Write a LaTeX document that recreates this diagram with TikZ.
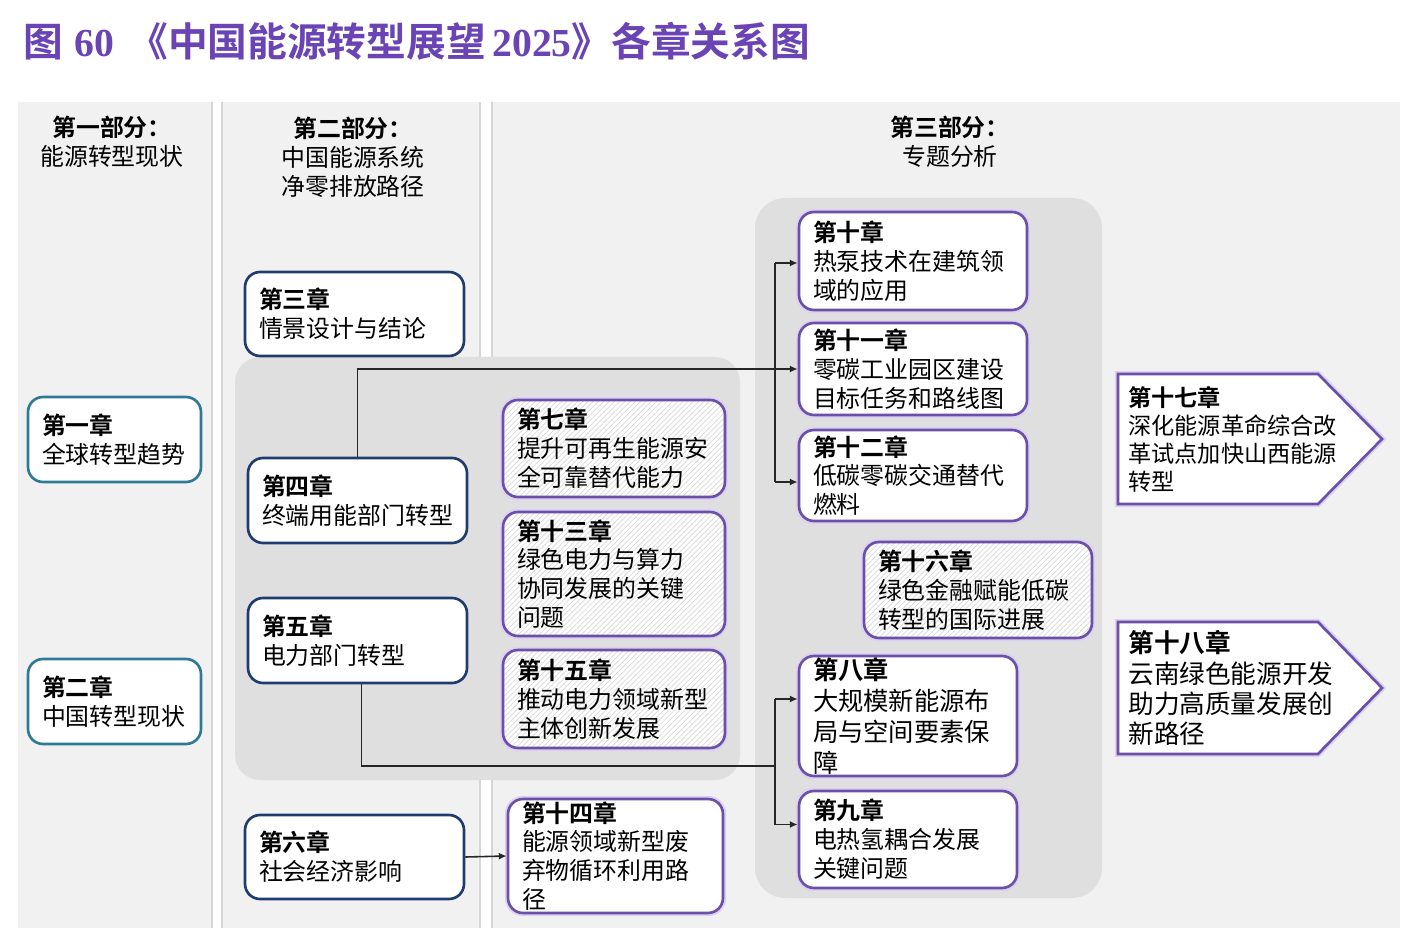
\documentclass[tikz,border=0pt]{standalone}
\usepackage{fontspec}
\setmainfont{Noto Sans CJK SC}[BoldFont={Noto Sans CJK SC Bold}]
\newfontfamily\latinfont{Liberation Serif}
\usetikzlibrary{patterns,arrows.meta,calc}

\definecolor{titlepurple}{HTML}{6A44B4}
\definecolor{panelgray}{HTML}{F1F1F1}
\definecolor{edgegray}{HTML}{D6D6D6}
\definecolor{zonegray}{HTML}{DFDFDF}
\definecolor{tealline}{HTML}{2E7A95}
\definecolor{navyline}{HTML}{1F3C6E}
\definecolor{purpleline}{HTML}{6A50A8}
\definecolor{purplehalo}{HTML}{DCD2F2}

\tikzset{
  chap/.style={draw, fill=white, rounded corners=0.3cm, line width=1.5pt,
    inner xsep=0.28cm, inner ysep=0pt, align=left,
    font=\fontsize{13.6}{16.4}\selectfont},
  tealbox/.style={draw=tealline},
  navybox/.style={draw=navyline},
  purplebox/.style={draw=purpleline, preaction={draw=purplehalo, line width=3.6pt}},
  hatched/.style={preaction={fill=white}, pattern=north east lines, pattern color=gray!30},
  header/.style={align=center, font=\fontsize{13.6}{16.4}\selectfont},
  link/.style={line width=0.9pt, black!85, -{Latex[length=4.5pt,width=4pt]}},
  bus/.style={line width=0.9pt, black!85},
  pentagon/.style={draw=purpleline, fill=white, line width=1.5pt,
    preaction={draw=purplehalo, line width=3.6pt}},
}

\begin{document}
\begin{tikzpicture}[x=0.02cm, y=-0.02cm]
  \useasboundingbox (0,0) rectangle (1406,942);
  \fill[white] (0,0) rectangle (1406,942);

  % Title
  \node[anchor=west, text=titlepurple, font=\fontsize{22.6}{26}\selectfont\bfseries]
    (title) at (17,41) {图\hspace{0.3em}{\latinfont 60}\hspace{0.35em}《中国能源转型展望\,{\latinfont 2025}》各章关系图};

  % Three parts
  \fill[panelgray] (18,102) rectangle (212,928);
  \fill[panelgray] (222,102) rectangle (480,928);
  \fill[panelgray] (492,102) rectangle (1400,928);
  \foreach \x in {212,222,480,492}
    \draw[edgegray, line width=0.6pt] (\x,102) -- (\x,928);

  \node[header] (part1) at (112,142) {\textbf{第一部分：}\\能源转型现状};
  \node[header] (part2) at (353,157) {\textbf{第二部分：}\\中国能源系统\\净零排放路径};
  \node[header] (part3) at (950,142) {\textbf{第三部分：}\\专题分析};

  % Grouping zones
  \fill[zonegray, rounded corners=0.5cm] (235,357) rectangle (740,780);
  \fill[zonegray, rounded corners=0.6cm] (755,198) rectangle (1102,898);

  % Part one
  \node[chap, tealbox, text width=2.90cm, minimum height=1.70cm] (c1) at (114.5,439.5)
    {\textbf{第一章}\\全球转型趋势};
  \node[chap, tealbox, text width=2.90cm, minimum height=1.70cm] (c2) at (114.5,701.5)
    {\textbf{第二章}\\中国转型现状};

  % Part two
  \node[chap, navybox, text width=3.82cm, minimum height=1.68cm] (c3) at (354.5,314)
    {\textbf{第三章}\\情景设计与结论};
  \node[chap, navybox, text width=3.82cm, minimum height=1.70cm] (c4) at (357.5,500.5)
    {\textbf{第四章}\\终端用能部门转型};
  \node[chap, navybox, text width=3.82cm, minimum height=1.70cm] (c5) at (357.5,640.5)
    {\textbf{第五章}\\电力部门转型};
  \node[chap, navybox, text width=3.82cm, minimum height=1.68cm] (c6) at (354.5,857)
    {\textbf{第六章}\\社会经济影响};

  % Part three, left column
  \node[chap, purplebox, hatched, text width=3.88cm, minimum height=1.94cm] (c7) at (614,448.5)
    {\textbf{第七章}\\提升可再生能源安\\全可靠替代能力};
  \node[chap, purplebox, hatched, text width=3.88cm, minimum height=2.48cm] (c13) at (614,574)
    {\textbf{第十三章}\\绿色电力与算力\\协同发展的关键\\问题};
  \node[chap, purplebox, hatched, text width=3.88cm, minimum height=1.96cm] (c15) at (614,699)
    {\textbf{第十五章}\\推动电力领域新型\\主体创新发展};
  \node[chap, purplebox, text width=3.74cm, minimum height=2.28cm] (c14) at (615.5,856)
    {\textbf{第十四章}\\能源领域新型废\\弃物循环利用路\\径};

  % Part three, right column
  \node[chap, purplebox, text width=4.00cm, minimum height=1.96cm] (c10) at (913,261)
    {\textbf{第十章}\\热泵技术在建筑领\\域的应用};
  \node[chap, purplebox, text width=4.00cm, minimum height=1.84cm] (c11) at (913,369)
    {\textbf{第十一章}\\零碳工业园区建设\\目标任务和路线图};
  \node[chap, purplebox, text width=4.00cm, minimum height=1.82cm] (c12) at (913,475.5)
    {\textbf{第十二章}\\低碳零碳交通替代\\燃料};
  \node[chap, purplebox, hatched, text width=4.00cm, minimum height=1.92cm] (c16) at (978,590)
    {\textbf{第十六章}\\绿色金融赋能低碳\\转型的国际进展};
  \node[chap, purplebox, text width=3.80cm, minimum height=2.40cm,
    font=\fontsize{14.4}{17.5}\selectfont] (c8) at (908,716)
    {\textbf{第八章}\\大规模新能源布\\局与空间要素保\\障};
  \node[chap, purplebox, text width=3.80cm, minimum height=1.94cm] (c9) at (908,839.5)
    {\textbf{第九章}\\电热氢耦合发展\\关键问题};

  % Provincial chapters
  \coordinate (p17) at (1118,374);
  \coordinate (p18) at (1118,622);
  \draw[pentagon] (p17) -- ++(200,0) -- ++(64,65) -- ++(-64,65) -- ++(-200,0) -- cycle;
  \draw[pentagon] (p18) -- ++(200,0) -- ++(64,66) -- ++(-64,66) -- ++(-200,0) -- cycle;
  \node[anchor=north west, align=left, inner xsep=0.2cm, inner ysep=0pt,
    text width=4.4cm, minimum height=2.60cm,
    font=\fontsize{13.2}{16}\selectfont] (c17) at (p17)
    {\textbf{第十七章}\\深化能源革命综合改\\革试点加快山西能源\\转型};
  \node[anchor=north west, align=left, inner xsep=0.2cm, inner ysep=0pt,
    text width=4.4cm, minimum height=2.64cm,
    font=\fontsize{14.6}{17.3}\selectfont] (c18) at (p18)
    {\textbf{第十八章}\\云南绿色能源开发\\助力高质量发展创\\新路径};

  % Connectors
  \coordinate (busA) at (775,371);
  \coordinate (busB) at (775,766);
  \coordinate (in10) at ([yshift=-0.04cm]c10.west);
  \coordinate (in12) at ([yshift=-0.13cm]c12.west);
  \coordinate (in8) at ([yshift=0.34cm]c8.west);
  \coordinate (in9) at ([yshift=0.30cm]c9.west);
  \draw[link] (c4.north) |- (c11.west);
  \draw[bus] (busA |- in10) -- (busA |- in12);
  \draw[link] (busA |- in10) -- (in10);
  \draw[link] (busA |- in12) -- (in12);
  \draw[bus] ([xshift=0.08cm]c5.south) |- (busB);
  \draw[bus] (busB |- in8) -- (busB |- in9);
  \draw[link] (busB |- in8) -- (in8);
  \draw[link] (busB |- in9) -- (in9);
  \draw[link] (c6.east) -- (c14.west);
\end{tikzpicture}
\end{document}
